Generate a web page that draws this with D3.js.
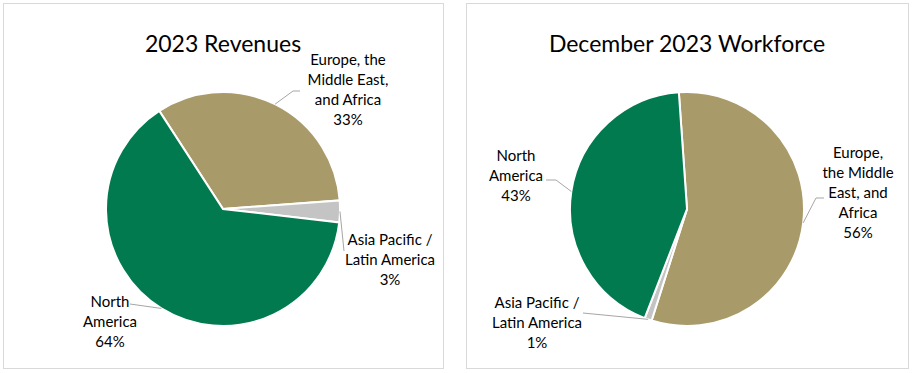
<!DOCTYPE html>
<html>
<head>
<meta charset="utf-8">
<script src="https://cdn.jsdelivr.net/npm/d3@7"></script>
<style>
  body { margin: 0; background: #fff; }
  text { font-family: Lato, "Open Sans", sans-serif; fill: #000; }
</style>
</head>
<body>
<script>
const width = 913;
const height = 373;

// regions, in the order the slices go round
var regions = ["Europe, the Middle East, and Africa", "Asia Pacific / Latin America", "North America"];

// percentages
var revenues = [33, 3, 64];
var workforce = [56, 1, 43];

var titles = ["2023 Revenues", "December 2023 Workforce"];

// label lines as they wrap in the picture
var revenueLabels = [["Europe, the", "Middle East,", "and Africa"], ["Asia Pacific /", "Latin America"], ["North", "America"]];
var workforceLabels = [["Europe,", "the Middle", "East, and", "Africa"], ["Asia Pacific /", "Latin America"], ["North", "America"]];

var colors = d3.scaleOrdinal()
    .domain(regions)
    .range(["#a99a69", "#c4c4c4", "#007a4e"]);

var svg = d3.select("body")
  .append("svg")
  .attr("width", width)
  .attr("height", height);

// one panel per chart; label spots and leader elbows are layout only
var panels = [
  {
    x: 3, w: 440, values: revenues, labels: revenueLabels, title: titles[0],
    cx: 223, cy: 209, start: -33,
    spots: [[348, 65], [390, 245], [110, 307]],
    elbows: [[[293, 91], [300, 91]], [[344, 251]], [[130, 304]]]
  },
  {
    x: 466, w: 442, values: workforce, labels: workforceLabels, title: titles[1],
    cx: 687, cy: 209, start: -4,
    spots: [[858, 158], [537, 308], [516, 161]],
    elbows: [[[816, 198], [824, 198]], [[583, 313]], [[556, 180], [546, 180]]]
  }
];

var radius = 117;
var lineH = 20;

panels.forEach(function(p) {
    svg.append("rect")
      .attr("x", p.x + 0.5)
      .attr("y", 3.5)
      .attr("width", p.w)
      .attr("height", 365)
      .attr("fill", "#fff")
      .attr("stroke", "#d9d9d9");

    svg.append("text")
      .attr("x", p.cx)
      .attr("y", 52)
      .attr("text-anchor", "middle")
      .style("font-size", "23px")
      .text(p.title);

    var start = p.start * Math.PI / 180;
    var pie = d3.pie()
      .sort(null)
      .startAngle(start)
      .endAngle(start + 2 * Math.PI);
    var arc = d3.arc().innerRadius(0).outerRadius(radius);

    var slices = pie(p.values);
    var g = svg.append("g").attr("transform", "translate(" + p.cx + "," + p.cy + ")");

    g.selectAll("path")
      .data(slices)
      .enter()
      .append("path")
      .attr("d", arc)
      .attr("fill", function(d, i) { return colors(regions[i]); })
      .attr("stroke", "#fff")
      .attr("stroke-width", 2);

    // leader lines from the slice edge to the label
    slices.forEach(function(d, i) {
        var mid = (d.startAngle + d.endAngle) / 2;
        var pts = [[p.cx + radius * Math.sin(mid), p.cy - radius * Math.cos(mid)]].concat(p.elbows[i]);
        svg.append("path")
          .attr("d", d3.line()(pts))
          .attr("fill", "none")
          .attr("stroke", "#a6a6a6")
          .attr("stroke-width", 1);

        var lines = p.labels[i].concat([d.data + "%"]);
        var t = svg.append("text")
          .attr("text-anchor", "middle")
          .style("font-size", "15px");
        lines.forEach(function(s, k) {
            t.append("tspan")
              .attr("x", p.spots[i][0])
              .attr("y", p.spots[i][1] + k * lineH)
              .text(s);
        });
    });
});
</script>
</body>
</html>
